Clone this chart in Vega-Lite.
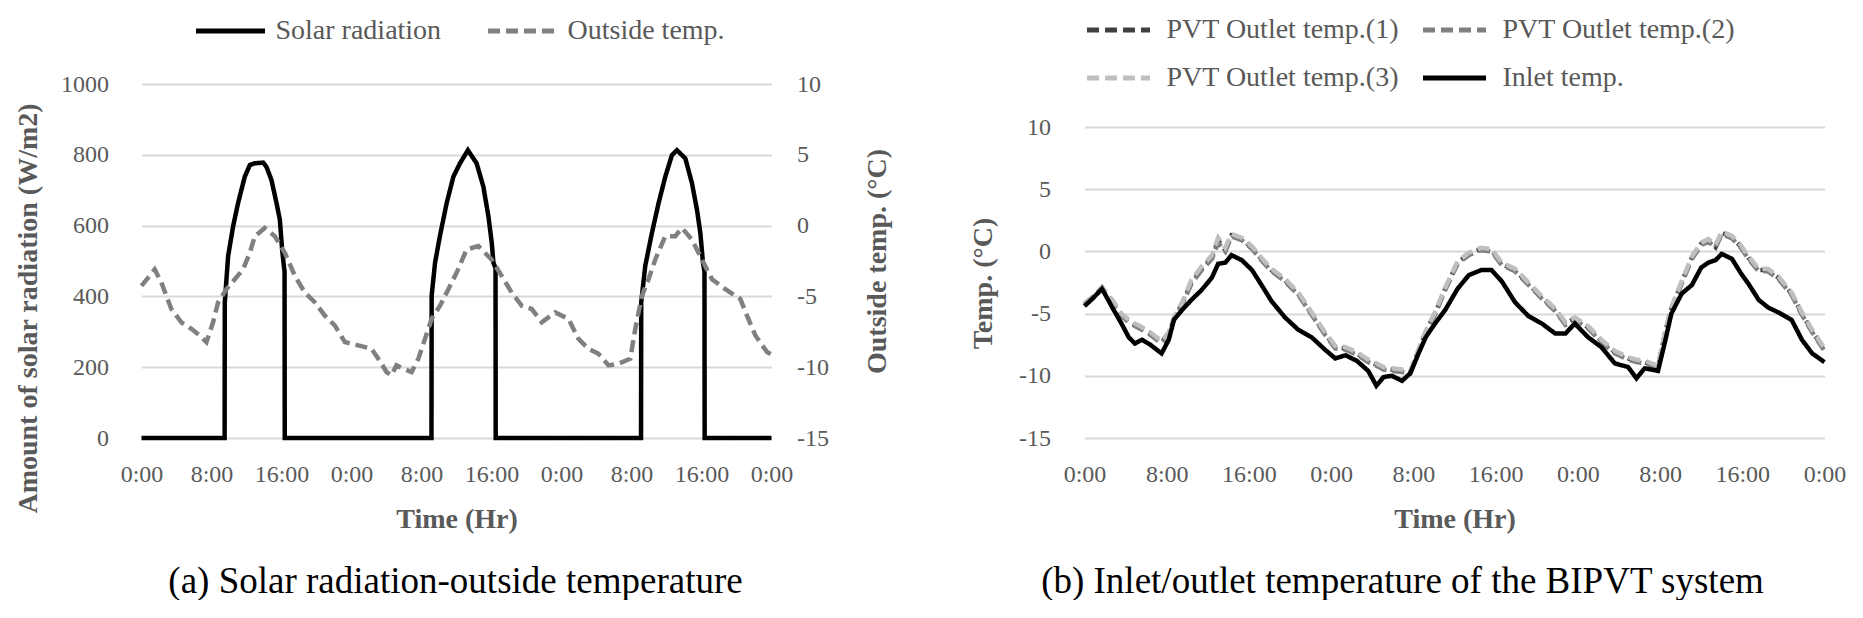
{
  "$schema": "https://vega.github.io/schema/vega-lite/v6.json",
  "background": "white",
  "autosize": {"type": "pad"},
  "padding": {"left": 14.5, "top": -6, "right": 0, "bottom": 0},
  "bounds": "flush",
  "spacing": 313,
  "config": {
    "font": "Liberation Serif",
    "view": {"stroke": null},
    "axis": {
      "labelFont": "Liberation Serif", "labelFontSize": 24, "labelColor": "#595959",
      "titleFont": "Liberation Serif", "titleFontSize": 28, "titleFontWeight": "bold", "titleColor": "#595959",
      "domain": false, "ticks": false, "gridColor": "#d9d9d9", "gridWidth": 2
    },
    "legend": {"labelFont": "Liberation Serif", "labelFontSize": 28, "labelColor": "#595959", "symbolType": "stroke", "symbolStrokeWidth": 5, "labelLimit": 400},
    "title": {"font": "Liberation Serif", "fontSize": 37, "fontWeight": "normal", "color": "#000000"}
  },
  "resolve": {"scale": {"color": "independent", "strokeDash": "independent"}, "legend": {"color": "independent", "strokeDash": "independent"}},
  "hconcat": [
    {
      "width": 630, "height": 354,
      "title": {"text": "(a) Solar radiation-outside temperature", "orient": "bottom", "anchor": "middle", "offset": 31, "dx": -1, "font": "Liberation Serif"},
      "data": {"values": [
        {"h":0,"s":"Solar radiation","v":0},{"h":9.5,"s":"Solar radiation","v":0},{"h":9.52,"s":"Solar radiation","v":383},{"h":9.9,"s":"Solar radiation","v":514},{"h":10.47,"s":"Solar radiation","v":598},{"h":11.04,"s":"Solar radiation","v":664},{"h":11.8,"s":"Solar radiation","v":738},{"h":12.38,"s":"Solar radiation","v":771},{"h":12.95,"s":"Solar radiation","v":776},{"h":13.9,"s":"Solar radiation","v":778},{"h":14.28,"s":"Solar radiation","v":766},{"h":14.85,"s":"Solar radiation","v":729},{"h":15.43,"s":"Solar radiation","v":664},{"h":15.81,"s":"Solar radiation","v":617},{"h":16.07,"s":"Solar radiation","v":533},{"h":16.27,"s":"Solar radiation","v":486},{"h":16.35,"s":"Solar radiation","v":470},{"h":16.37,"s":"Solar radiation","v":0},
        {"h":33.14,"s":"Solar radiation","v":0},{"h":33.16,"s":"Solar radiation","v":402},{"h":33.55,"s":"Solar radiation","v":495},{"h":34.1,"s":"Solar radiation","v":570},{"h":34.88,"s":"Solar radiation","v":664},{"h":35.64,"s":"Solar radiation","v":738},{"h":36.4,"s":"Solar radiation","v":776},{"h":37.3,"s":"Solar radiation","v":813},{"h":38.3,"s":"Solar radiation","v":776},{"h":39.07,"s":"Solar radiation","v":710},{"h":39.65,"s":"Solar radiation","v":626},{"h":40.03,"s":"Solar radiation","v":551},{"h":40.22,"s":"Solar radiation","v":495},{"h":40.46,"s":"Solar radiation","v":480},{"h":40.48,"s":"Solar radiation","v":0},
        {"h":57.09,"s":"Solar radiation","v":0},{"h":57.11,"s":"Solar radiation","v":383},{"h":57.57,"s":"Solar radiation","v":486},{"h":58.33,"s":"Solar radiation","v":579},{"h":59.1,"s":"Solar radiation","v":664},{"h":59.86,"s":"Solar radiation","v":738},{"h":60.62,"s":"Solar radiation","v":799},{"h":61.19,"s":"Solar radiation","v":813},{"h":62.15,"s":"Solar radiation","v":790},{"h":62.91,"s":"Solar radiation","v":720},{"h":63.48,"s":"Solar radiation","v":645},{"h":63.87,"s":"Solar radiation","v":579},{"h":64.17,"s":"Solar radiation","v":495},{"h":64.34,"s":"Solar radiation","v":470},{"h":64.36,"s":"Solar radiation","v":0},{"h":72,"s":"Solar radiation","v":0},
        {"h":0,"s":"Outside temp.","v":-4.26},{"h":1.51,"s":"Outside temp.","v":-3.09},{"h":2.27,"s":"Outside temp.","v":-4.02},{"h":3.41,"s":"Outside temp.","v":-5.89},{"h":4.55,"s":"Outside temp.","v":-6.83},{"h":5.7,"s":"Outside temp.","v":-7.29},{"h":6.66,"s":"Outside temp.","v":-7.76},{"h":7.42,"s":"Outside temp.","v":-8.23},{"h":8.18,"s":"Outside temp.","v":-6.83},{"h":8.75,"s":"Outside temp.","v":-5.43},{"h":9.71,"s":"Outside temp.","v":-4.49},{"h":10.66,"s":"Outside temp.","v":-3.79},{"h":11.61,"s":"Outside temp.","v":-3.09},{"h":12.38,"s":"Outside temp.","v":-1.92},{"h":12.95,"s":"Outside temp.","v":-0.75},{"h":14.09,"s":"Outside temp.","v":-0.17},{"h":15.24,"s":"Outside temp.","v":-0.75},{"h":16.38,"s":"Outside temp.","v":-1.92},{"h":17.53,"s":"Outside temp.","v":-3.56},{"h":18.67,"s":"Outside temp.","v":-4.73},{"h":19.82,"s":"Outside temp.","v":-5.43},{"h":20.96,"s":"Outside temp.","v":-6.36},{"h":22.1,"s":"Outside temp.","v":-7.06},{"h":23.25,"s":"Outside temp.","v":-8.23},{"h":24.77,"s":"Outside temp.","v":-8.46},{"h":26.29,"s":"Outside temp.","v":-8.7},{"h":27.06,"s":"Outside temp.","v":-9.4},{"h":28.01,"s":"Outside temp.","v":-10.34},{"h":28.58,"s":"Outside temp.","v":-10.57},{"h":29.15,"s":"Outside temp.","v":-9.87},{"h":29.92,"s":"Outside temp.","v":-10.1},{"h":30.87,"s":"Outside temp.","v":-10.34},{"h":31.64,"s":"Outside temp.","v":-9.4},{"h":32.4,"s":"Outside temp.","v":-8.0},{"h":33.16,"s":"Outside temp.","v":-6.59},{"h":34.12,"s":"Outside temp.","v":-5.66},{"h":35.07,"s":"Outside temp.","v":-4.49},{"h":36.02,"s":"Outside temp.","v":-3.32},{"h":37.16,"s":"Outside temp.","v":-1.68},{"h":38.5,"s":"Outside temp.","v":-1.45},{"h":40.0,"s":"Outside temp.","v":-2.39},{"h":41.17,"s":"Outside temp.","v":-3.56},{"h":42.31,"s":"Outside temp.","v":-4.73},{"h":43.46,"s":"Outside temp.","v":-5.66},{"h":44.6,"s":"Outside temp.","v":-5.89},{"h":45.74,"s":"Outside temp.","v":-6.83},{"h":47.28,"s":"Outside temp.","v":-6.13},{"h":48.8,"s":"Outside temp.","v":-6.59},{"h":49.94,"s":"Outside temp.","v":-8.0},{"h":51.09,"s":"Outside temp.","v":-8.7},{"h":52.23,"s":"Outside temp.","v":-9.05},{"h":53.38,"s":"Outside temp.","v":-9.87},{"h":54.52,"s":"Outside temp.","v":-9.75},{"h":55.86,"s":"Outside temp.","v":-9.4},{"h":56.43,"s":"Outside temp.","v":-7.29},{"h":57.19,"s":"Outside temp.","v":-4.96},{"h":57.95,"s":"Outside temp.","v":-3.79},{"h":58.72,"s":"Outside temp.","v":-2.39},{"h":59.86,"s":"Outside temp.","v":-0.75},{"h":61.0,"s":"Outside temp.","v":-0.75},{"h":61.76,"s":"Outside temp.","v":-0.17},{"h":62.9,"s":"Outside temp.","v":-0.98},{"h":64.05,"s":"Outside temp.","v":-2.39},{"h":65.2,"s":"Outside temp.","v":-3.79},{"h":66.73,"s":"Outside temp.","v":-4.49},{"h":68.44,"s":"Outside temp.","v":-5.19},{"h":69.2,"s":"Outside temp.","v":-6.36},{"h":70.16,"s":"Outside temp.","v":-7.76},{"h":71.49,"s":"Outside temp.","v":-8.93},{"h":72,"s":"Outside temp.","v":-9.1}
      ]},
      "encoding": {
        "x": {"field": "h", "type": "quantitative", "scale": {"domain": [0, 72], "nice": false},
          "axis": {"values": [0,8,16,24,32,40,48,56,64,72], "labelExpr": "(datum.value % 24) + ':00'", "title": "Time (Hr)", "grid": false, "labelPadding": 24, "titlePadding": 19, "labelOverlap": false, "labelFlush": false, "labelBound": false}},
        "color": {"field": "s", "type": "nominal", "scale": {"domain": ["Solar radiation", "Outside temp."], "range": ["#000000", "#808080"]},
          "legend": {"orient": "none", "legendX": 52, "legendY": -90, "direction": "horizontal", "columns": 2, "title": null, "symbolSize": 4761, "columnPadding": 36, "labelOffset": 8, "labelFont": "Liberation Serif", "labelFontSize": 28, "labelLimit": 400}},
        "strokeDash": {"field": "s", "type": "nominal", "scale": {"domain": ["Solar radiation", "Outside temp."], "range": [[1, 0], [12, 6]]},
          "legend": {"orient": "none", "legendX": 52, "legendY": -90, "direction": "horizontal", "columns": 2, "title": null, "symbolSize": 4761, "columnPadding": 36, "labelOffset": 8, "labelFont": "Liberation Serif", "labelFontSize": 28, "labelLimit": 400}}
      },
      "layer": [
        {
          "transform": [{"filter": "datum.s === 'Solar radiation'"}],
          "mark": {"type": "line", "strokeWidth": 4.5},
          "encoding": {"y": {"field": "v", "type": "quantitative", "scale": {"domain": [0, 1000], "nice": false},
            "axis": {"values": [0,200,400,600,800,1000], "labelExpr": "'' + datum.value", "title": "Amount of solar radiation (W/m2)", "labelPadding": 33, "titlePadding": 18, "titleY": 224}}}
        },
        {
          "transform": [{"filter": "datum.s === 'Outside temp.'"}],
          "mark": {"type": "line", "strokeWidth": 4.5},
          "encoding": {"y": {"field": "v", "type": "quantitative", "scale": {"domain": [-15, 10], "nice": false},
            "axis": {"orient": "right", "values": [-15,-10,-5,0,5,10], "labelExpr": "'' + datum.value", "grid": false, "title": "Outside temp. (°C)", "titleAngle": 270, "labelPadding": 25, "titlePadding": 63}}}
        }
      ],
      "resolve": {"scale": {"y": "independent"}}
    },
    {
      "width": 740, "height": 354,
      "title": {"text": "(b) Inlet/outlet temperature of the BIPVT system", "orient": "bottom", "anchor": "middle", "offset": 31, "dx": -52, "font": "Liberation Serif"},
      "data": {"values": [
        {"h":0,"o1":-4.2,"o2":-4.3,"o3":-4.2,"in":-4.4},
        {"h":0.9,"o1":-3.6,"o2":-3.7,"o3":-3.6,"in":-3.7},
        {"h":1.7,"o1":-2.9,"o2":-3.0,"o3":-2.9,"in":-3.0},
        {"h":2.7,"o1":-4.0,"o2":-4.1,"o3":-3.9,"in":-4.5},
        {"h":3.6,"o1":-5.1,"o2":-5.2,"o3":-5.0,"in":-5.8},
        {"h":4.3,"o1":-5.6,"o2":-5.7,"o3":-5.5,"in":-6.9},
        {"h":4.9,"o1":-5.9,"o2":-6.0,"o3":-5.8,"in":-7.4},
        {"h":5.6,"o1":-6.2,"o2":-6.3,"o3":-6.1,"in":-7.1},
        {"h":6.4,"o1":-6.6,"o2":-6.7,"o3":-6.5,"in":-7.5},
        {"h":7.5,"o1":-7.3,"o2":-7.4,"o3":-7.2,"in":-8.2},
        {"h":8.2,"o1":-6.6,"o2":-6.8,"o3":-6.5,"in":-7.1},
        {"h":8.7,"o1":-5.4,"o2":-5.5,"o3":-5.3,"in":-5.5},
        {"h":9.5,"o1":-4.2,"o2":-4.3,"o3":-4.1,"in":-4.7},
        {"h":10.4,"o1":-2.5,"o2":-2.6,"o3":-2.3,"in":-3.9},
        {"h":11.4,"o1":-1.4,"o2":-1.5,"o3":-1.2,"in":-3.1},
        {"h":12.4,"o1":-0.5,"o2":-0.6,"o3":-0.3,"in":-2.1},
        {"h":13.0,"o1":0.9,"o2":0.7,"o3":1.1,"in":-1.0},
        {"h":13.7,"o1":0.1,"o2":0.0,"o3":0.3,"in":-0.9},
        {"h":14.3,"o1":1.3,"o2":1.2,"o3":1.4,"in":-0.3},
        {"h":15.3,"o1":1.0,"o2":0.9,"o3":1.1,"in":-0.7},
        {"h":16.3,"o1":0.3,"o2":0.2,"o3":0.4,"in":-1.5},
        {"h":17.3,"o1":-0.7,"o2":-0.8,"o3":-0.6,"in":-2.8},
        {"h":18.2,"o1":-1.5,"o2":-1.6,"o3":-1.4,"in":-4.0},
        {"h":19.5,"o1":-2.3,"o2":-2.4,"o3":-2.2,"in":-5.3},
        {"h":20.8,"o1":-3.4,"o2":-3.5,"o3":-3.3,"in":-6.3},
        {"h":22.1,"o1":-5.0,"o2":-5.1,"o3":-4.9,"in":-6.9},
        {"h":23.4,"o1":-6.6,"o2":-6.7,"o3":-6.5,"in":-7.9},
        {"h":24.4,"o1":-7.7,"o2":-7.8,"o3":-7.6,"in":-8.6},
        {"h":25.4,"o1":-7.8,"o2":-7.9,"o3":-7.7,"in":-8.35},
        {"h":26.5,"o1":-8.2,"o2":-8.3,"o3":-8.1,"in":-8.8},
        {"h":27.6,"o1":-8.8,"o2":-8.9,"o3":-8.7,"in":-9.6},
        {"h":28.4,"o1":-9.1,"o2":-9.2,"o3":-9.0,"in":-10.8},
        {"h":29.1,"o1":-9.4,"o2":-9.5,"o3":-9.3,"in":-10.1},
        {"h":29.9,"o1":-9.5,"o2":-9.6,"o3":-9.4,"in":-10.0},
        {"h":30.9,"o1":-9.6,"o2":-9.7,"o3":-9.5,"in":-10.4},
        {"h":31.7,"o1":-9.7,"o2":-9.8,"o3":-9.6,"in":-9.8},
        {"h":32.5,"o1":-8.0,"o2":-8.1,"o3":-7.9,"in":-8.2},
        {"h":33.2,"o1":-6.5,"o2":-6.6,"o3":-6.4,"in":-6.9},
        {"h":34.1,"o1":-5.0,"o2":-5.1,"o3":-4.9,"in":-5.8},
        {"h":35.1,"o1":-3.0,"o2":-3.1,"o3":-2.9,"in":-4.7},
        {"h":36.3,"o1":-0.9,"o2":-1.0,"o3":-0.8,"in":-3.0},
        {"h":37.4,"o1":-0.2,"o2":-0.3,"o3":-0.1,"in":-1.9},
        {"h":38.6,"o1":0.2,"o2":0.1,"o3":0.3,"in":-1.5},
        {"h":39.6,"o1":0.1,"o2":0.0,"o3":0.2,"in":-1.5},
        {"h":40.6,"o1":-1.0,"o2":-1.1,"o3":-0.9,"in":-2.4},
        {"h":41.9,"o1":-1.5,"o2":-1.6,"o3":-1.4,"in":-4.1},
        {"h":43.2,"o1":-2.6,"o2":-2.7,"o3":-2.5,"in":-5.2},
        {"h":44.5,"o1":-3.7,"o2":-3.8,"o3":-3.6,"in":-5.8},
        {"h":45.8,"o1":-4.7,"o2":-4.8,"o3":-4.6,"in":-6.6},
        {"h":46.8,"o1":-5.8,"o2":-5.9,"o3":-5.7,"in":-6.6},
        {"h":47.7,"o1":-5.4,"o2":-5.5,"o3":-5.3,"in":-5.8},
        {"h":49.0,"o1":-6.1,"o2":-6.2,"o3":-6.0,"in":-6.9},
        {"h":50.3,"o1":-7.2,"o2":-7.3,"o3":-7.1,"in":-7.7},
        {"h":51.6,"o1":-8.1,"o2":-8.2,"o3":-8.0,"in":-9.0},
        {"h":52.9,"o1":-8.6,"o2":-8.7,"o3":-8.5,"in":-9.3},
        {"h":53.7,"o1":-8.8,"o2":-8.9,"o3":-8.7,"in":-10.2},
        {"h":54.5,"o1":-8.9,"o2":-9.0,"o3":-8.8,"in":-9.4},
        {"h":55.8,"o1":-9.3,"o2":-9.4,"o3":-9.2,"in":-9.6},
        {"h":56.5,"o1":-6.5,"o2":-6.6,"o3":-6.4,"in":-7.2},
        {"h":57.1,"o1":-4.6,"o2":-4.7,"o3":-4.5,"in":-5.0},
        {"h":58.1,"o1":-2.5,"o2":-2.6,"o3":-2.4,"in":-3.4},
        {"h":59.1,"o1":-0.5,"o2":-0.6,"o3":-0.4,"in":-2.7},
        {"h":60.0,"o1":0.6,"o2":0.5,"o3":0.7,"in":-1.3},
        {"h":60.7,"o1":0.9,"o2":0.8,"o3":1.0,"in":-0.9},
        {"h":61.4,"o1":0.35,"o2":0.3,"o3":0.5,"in":-0.7},
        {"h":62.0,"o1":1.5,"o2":1.4,"o3":1.6,"in":-0.2},
        {"h":63.0,"o1":1.15,"o2":1.05,"o3":1.25,"in":-0.6},
        {"h":63.9,"o1":0.35,"o2":0.25,"o3":0.45,"in":-1.8},
        {"h":64.6,"o1":-0.5,"o2":-0.6,"o3":-0.4,"in":-2.6},
        {"h":65.6,"o1":-1.5,"o2":-1.6,"o3":-1.4,"in":-3.9},
        {"h":66.5,"o1":-1.5,"o2":-1.6,"o3":-1.4,"in":-4.5},
        {"h":67.5,"o1":-2.1,"o2":-2.2,"o3":-2.0,"in":-4.9},
        {"h":68.8,"o1":-3.4,"o2":-3.5,"o3":-3.3,"in":-5.5},
        {"h":69.8,"o1":-5.0,"o2":-5.1,"o3":-4.9,"in":-7.1},
        {"h":70.8,"o1":-6.4,"o2":-6.5,"o3":-6.3,"in":-8.2},
        {"h":72.0,"o1":-7.9,"o2":-8.0,"o3":-7.8,"in":-8.9}
      ]},
      "transform": [{"fold": ["o1", "o2", "o3", "in"], "as": ["k", "v"]}],
      "mark": {"type": "line", "strokeWidth": 4.5},
      "encoding": {
        "x": {"field": "h", "type": "quantitative", "scale": {"domain": [0, 72], "nice": false},
          "axis": {"values": [0,8,16,24,32,40,48,56,64,72], "labelExpr": "(datum.value % 24) + ':00'", "title": "Time (Hr)", "grid": false, "labelPadding": 24, "titlePadding": 19, "labelOverlap": false, "labelFlush": false, "labelBound": false}},
        "y": {"field": "v", "type": "quantitative", "scale": {"domain": [-15, 13.46], "nice": false, "zero": false},
          "axis": {"values": [-15,-10,-5,0,5,10], "labelExpr": "'' + datum.value", "title": "Temp. (°C)", "labelPadding": 34, "titlePadding": 21, "titleY": 199}},
        "color": {"field": "k", "type": "nominal", "scale": {"domain": ["o1", "o2", "o3", "in"], "range": ["#404040", "#7f7f7f", "#bfbfbf", "#000000"]},
          "legend": {"orient": "none", "legendX": 0, "legendY": -88, "direction": "horizontal", "columns": 2, "title": null, "symbolSize": 3969, "columnPadding": 13, "rowPadding": -13, "labelOffset": 14, "gridAlign": "each", "labelFont": "Liberation Serif", "labelFontSize": 28, "labelLimit": 400,
            "labelExpr": "datum.label == 'o1' ? 'PVT Outlet temp.(1)' : datum.label == 'o2' ? 'PVT Outlet temp.(2)' : datum.label == 'o3' ? 'PVT Outlet temp.(3)' : 'Inlet temp.'"}},
        "strokeDash": {"field": "k", "type": "nominal", "scale": {"domain": ["o1", "o2", "o3", "in"], "range": [[12, 6], [12, 6], [12, 6], [1, 0]]},
          "legend": {"orient": "none", "legendX": 0, "legendY": -88, "direction": "horizontal", "columns": 2, "title": null, "symbolSize": 3969, "columnPadding": 13, "rowPadding": -13, "labelOffset": 14, "gridAlign": "each", "labelFont": "Liberation Serif", "labelFontSize": 28, "labelLimit": 400,
            "labelExpr": "datum.label == 'o1' ? 'PVT Outlet temp.(1)' : datum.label == 'o2' ? 'PVT Outlet temp.(2)' : datum.label == 'o3' ? 'PVT Outlet temp.(3)' : 'Inlet temp.'"}}
      }
    }
  ]
}
